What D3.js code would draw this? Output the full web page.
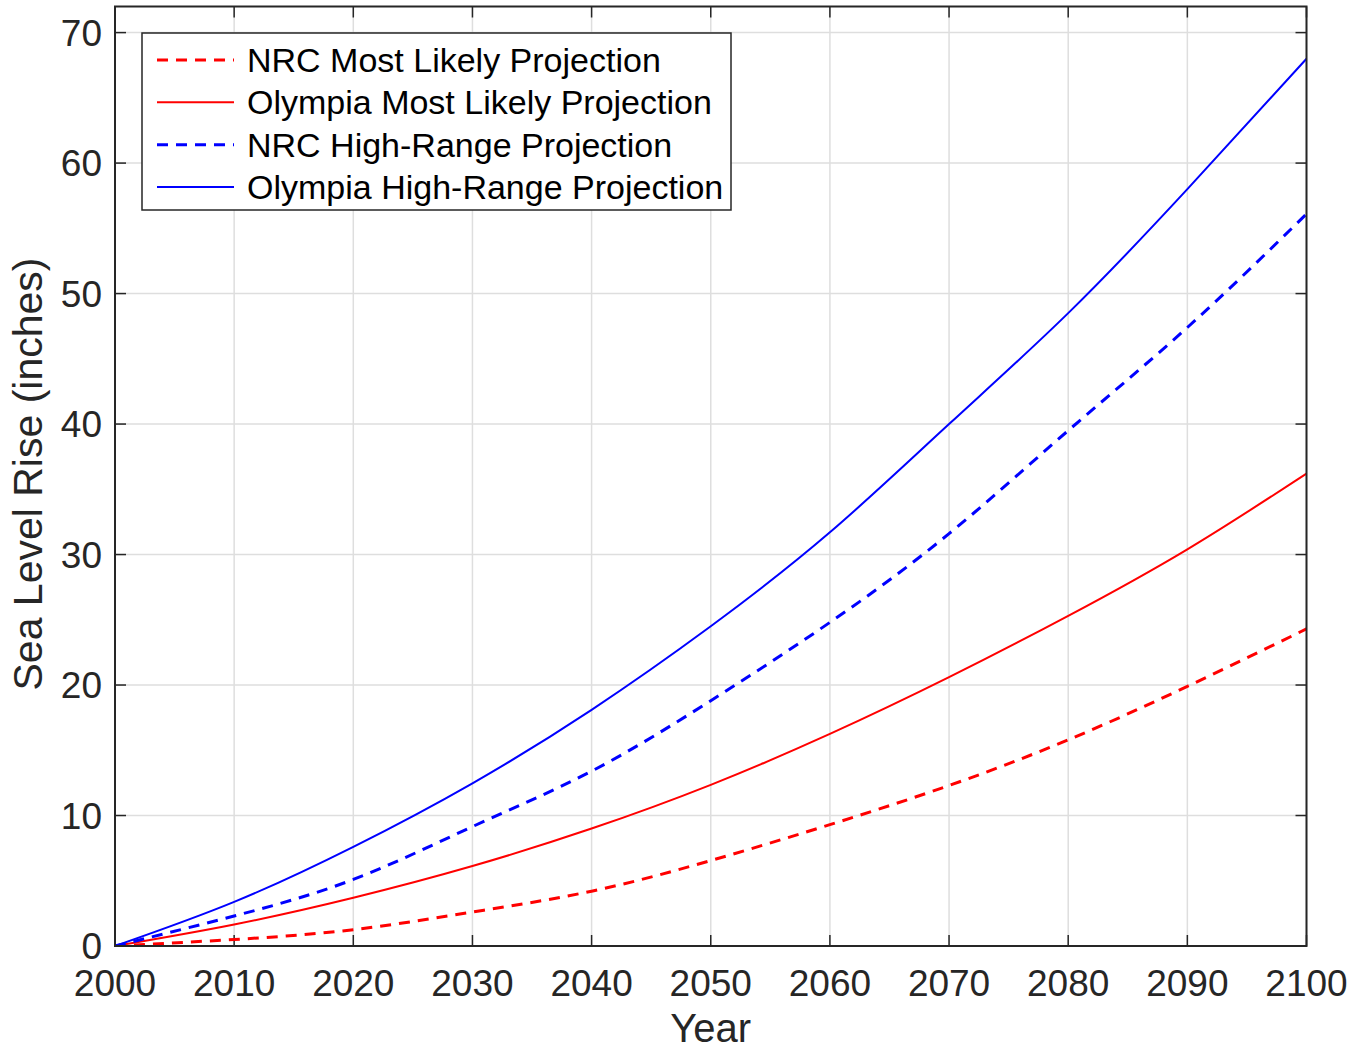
<!DOCTYPE html>
<html>
<head>
<meta charset="utf-8">
<script src="https://cdn.jsdelivr.net/npm/d3@7"></script>
<style>
  html, body { margin: 0; padding: 0; background: #ffffff; }
  svg { display: block; font-family: "Liberation Sans", Arial, Helvetica, sans-serif; }
</style>
</head>
<body>
<svg id="chart" width="1356" height="1051"></svg>
<script>
// ---- Data ----
const years = [2000, 2010, 2020, 2030, 2040, 2050, 2060, 2070, 2080, 2090, 2100];
const nrcMostLikely     = [0, 0.5, 1.25, 2.6, 4.2, 6.55, 9.3, 12.3, 15.8, 19.9, 24.3];
const olympiaMostLikely = [0, 1.65, 3.7, 6.13, 9.0, 12.35, 16.25, 20.6, 25.3, 30.4, 36.2];
const nrcHighRange      = [0, 2.3, 5.1, 9.15, 13.4, 18.8, 24.8, 31.6, 39.5, 47.4, 56.1];
const olympiaHighRange  = [0, 3.38, 7.6, 12.47, 18.1, 24.5, 31.7, 40.0, 48.5, 58.0, 68.0];
const seriesNames = ["NRC Most Likely Projection", "Olympia Most Likely Projection",
                     "NRC High-Range Projection", "Olympia High-Range Projection"];
const xTicks = [2000, 2010, 2020, 2030, 2040, 2050, 2060, 2070, 2080, 2090, 2100];
const yTicks = [0, 10, 20, 30, 40, 50, 60, 70];
const xLabel = "Year";
const yLabel = "Sea Level Rise (inches)";

(function () {
// ---- Styling ----
const series = [
  { name: seriesNames[0], values: nrcMostLikely,     color: "#ff0000", dash: "11,8", width: 3 },
  { name: seriesNames[1], values: olympiaMostLikely, color: "#ff0000", dash: null,   width: 2 },
  { name: seriesNames[2], values: nrcHighRange,      color: "#0000ff", dash: "11,8", width: 3 },
  { name: seriesNames[3], values: olympiaHighRange,  color: "#0000ff", dash: null,   width: 2 }
];

const svg = d3.select("#chart");
const pL = 115, pR = 1306.5, pT = 6.5, pB = 946;
const axisColor = "#262626";

const x = d3.scaleLinear().domain([2000, 2100]).range([pL, pR]);
const y = d3.scaleLinear().domain([0, 72]).range([pB, pT]);

// Grid
const grid = svg.append("g");
grid.selectAll("line.gx").data(xTicks).enter().append("line")
  .attr("x1", d => x(d)).attr("x2", d => x(d))
  .attr("y1", pT).attr("y2", pB)
  .attr("stroke", "#dedede").attr("stroke-width", 1.5);
grid.selectAll("line.gy").data(yTicks).enter().append("line")
  .attr("x1", pL).attr("x2", pR)
  .attr("y1", d => y(d)).attr("y2", d => y(d))
  .attr("stroke", "#dedede").attr("stroke-width", 1.5);

// Ticks (inside, on all four sides)
const tickLen = 11;
const ticks = svg.append("g").attr("stroke", axisColor).attr("stroke-width", 1.5);
xTicks.forEach(t => {
  ticks.append("line").attr("x1", x(t)).attr("x2", x(t)).attr("y1", pB).attr("y2", pB - tickLen);
  ticks.append("line").attr("x1", x(t)).attr("x2", x(t)).attr("y1", pT).attr("y2", pT + tickLen);
});
yTicks.forEach(t => {
  ticks.append("line").attr("x1", pL).attr("x2", pL + tickLen).attr("y1", y(t)).attr("y2", y(t));
  ticks.append("line").attr("x1", pR).attr("x2", pR - tickLen).attr("y1", y(t)).attr("y2", y(t));
});

// Lines
const line = d3.line()
  .x((d, i) => x(years[i]))
  .y(d => y(d))
  .curve(d3.curveNatural);

svg.append("clipPath").attr("id", "plotclip").append("rect")
  .attr("x", pL).attr("y", pT).attr("width", pR - pL).attr("height", pB - pT);

svg.append("g").attr("clip-path", "url(#plotclip)")
  .selectAll("path.series").data(series).enter().append("path")
  .attr("fill", "none")
  .attr("stroke", d => d.color)
  .attr("stroke-width", d => d.width)
  .attr("stroke-dasharray", d => d.dash)
  .attr("d", d => line(d.values));

// Axes box
svg.append("rect")
  .attr("x", pL).attr("y", pT).attr("width", pR - pL).attr("height", pB - pT)
  .attr("fill", "none").attr("stroke", axisColor).attr("stroke-width", 2);

// Tick labels
svg.append("g").selectAll("text").data(xTicks).enter().append("text")
  .attr("x", d => x(d)).attr("y", 996)
  .attr("text-anchor", "middle")
  .attr("font-size", 37).attr("fill", axisColor)
  .text(d => d);
svg.append("g").selectAll("text").data(yTicks).enter().append("text")
  .attr("x", 102).attr("y", d => y(d) + 13)
  .attr("text-anchor", "end")
  .attr("font-size", 37).attr("fill", axisColor)
  .text(d => d);

// Axis labels
svg.append("text")
  .attr("x", (pL + pR) / 2).attr("y", 1042)
  .attr("text-anchor", "middle").attr("font-size", 40).attr("fill", axisColor)
  .text(xLabel);
svg.append("text")
  .attr("transform", "translate(42, 474) rotate(-90)")
  .attr("text-anchor", "middle").attr("font-size", 41).attr("fill", axisColor)
  .text(yLabel);

// Legend
const lg = svg.append("g");
lg.append("rect")
  .attr("x", 142).attr("y", 33).attr("width", 589).attr("height", 177)
  .attr("fill", "#ffffff").attr("stroke", axisColor).attr("stroke-width", 1.5);
const rowY = d3.scaleLinear().domain([0, 3]).range([60, 187]);
const rows = lg.selectAll("g.row").data(series).enter().append("g")
  .attr("transform", (d, i) => `translate(0, ${rowY(i)})`);
rows.append("line")
  .attr("x1", 157).attr("x2", 234).attr("y1", 0).attr("y2", 0)
  .attr("stroke", d => d.color)
  .attr("stroke-width", d => d.width)
  .attr("stroke-dasharray", d => d.dash);
rows.append("text")
  .attr("x", 247).attr("y", 12)
  .attr("font-size", 34).attr("fill", "#000000")
  .text(d => d.name);
})();
</script>
</body>
</html>
